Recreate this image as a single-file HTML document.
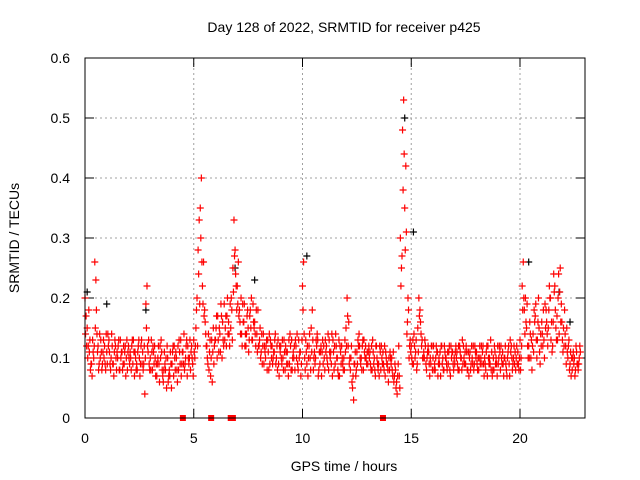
<!DOCTYPE html>
<html><head><meta charset="utf-8"><style>
body{margin:0;background:#fff}
svg{display:block;font-family:"Liberation Sans",sans-serif}
</style></head><body>
<svg id="chart" width="640" height="480">
<rect width="640" height="480" fill="#fff"/>
<text x="344" y="32" text-anchor="middle" font-size="14">Day 128 of 2022, SRMTID for receiver p425</text>
<text x="344" y="471" text-anchor="middle" font-size="14">GPS time / hours</text>
<text transform="translate(19,238) rotate(-90)" text-anchor="middle" font-size="14">SRMTID / TECUs</text>
<g id="grid"></g><g id="marks"></g>
<rect x="85" y="58" width="500" height="360" fill="none" stroke="#000"/>
</svg>
<script>
const startHour=0, stepHour=0.1;
const seriesA=[0.20,0.15,0.11,0.09,0.10,0.23,0.12,0.10,0.09,0.12,
0.11,0.13,0.10,0.09,0.12,0.10,0.08,0.11,0.09,0.10,
0.12,0.10,0.09,0.11,0.08,0.10,0.13,0.09,0.19,0.11,
0.10,0.08,0.12,0.07,0.09,0.13,0.06,0.08,0.10,0.07,
0.09,0.12,0.10,0.08,0.13,0.11,0.09,0.07,0.10,0.12,
0.13,0.15,0.28,0.35,0.22,0.18,0.12,0.08,0.10,0.15,
0.13,0.17,0.14,0.10,0.19,0.12,0.16,0.15,0.25,0.28,
0.22,0.18,0.14,0.16,0.12,0.15,0.18,0.13,0.16,0.14,
0.12,0.11,0.14,0.10,0.13,0.09,0.12,0.11,0.10,0.09,
0.12,0.10,0.08,0.11,0.09,0.13,0.10,0.12,0.08,0.11,
0.22,0.10,0.09,0.12,0.15,0.08,0.10,0.13,0.09,0.11,
0.10,0.12,0.08,0.11,0.13,0.09,0.10,0.07,0.12,0.10,
0.15,0.12,0.08,0.05,0.09,0.11,0.14,0.10,0.08,0.12,
0.09,0.11,0.08,0.10,0.12,0.09,0.08,0.11,0.07,0.09,
0.08,0.10,0.06,0.05,0.09,0.30,0.48,0.35,0.14,0.10,
0.12,0.09,0.11,0.15,0.18,0.13,0.10,0.08,0.11,0.09,
0.10,0.08,0.11,0.09,0.12,0.08,0.10,0.09,0.07,0.11,
0.09,0.11,0.08,0.10,0.12,0.09,0.08,0.11,0.10,0.09,
0.11,0.08,0.10,0.12,0.09,0.07,0.10,0.11,0.08,0.10,
0.09,0.08,0.11,0.10,0.07,0.09,0.12,0.10,0.08,0.11,
0.13,0.22,0.18,0.15,0.12,0.10,0.14,0.17,0.13,0.11,
0.16,0.13,0.18,0.15,0.20,0.12,0.22,0.17,0.14,0.19,
0.15,0.12,0.10,0.09,0.08,0.10,0.11,0.09];
const seriesB=[0.17,0.12,0.08,0.13,0.26,0.14,0.09,0.11,0.13,0.08,
0.14,0.09,0.12,0.11,0.08,0.13,0.10,0.09,0.12,0.08,
0.09,0.12,0.11,0.08,0.12,0.09,0.11,0.04,0.22,0.09,
0.13,0.11,0.07,0.10,0.12,0.08,0.11,0.05,0.07,0.09,
0.12,0.08,0.06,0.11,0.09,0.14,0.12,0.10,0.08,0.09,
0.10,0.20,0.33,0.40,0.26,0.14,0.09,0.13,0.06,0.12,
0.17,0.11,0.19,0.13,0.15,0.20,0.12,0.18,0.33,0.22,
0.26,0.14,0.19,0.12,0.17,0.13,0.20,0.16,0.12,0.18,
0.15,0.09,0.12,0.13,0.08,0.12,0.10,0.14,0.08,0.12,
0.09,0.13,0.11,0.07,0.12,0.10,0.08,0.14,0.10,0.09,
0.26,0.13,0.07,0.10,0.18,0.11,0.12,0.08,0.12,0.09,
0.13,0.09,0.11,0.14,0.08,0.12,0.07,0.11,0.09,0.13,
0.20,0.09,0.12,0.03,0.07,0.13,0.10,0.12,0.11,0.09,
0.12,0.08,0.11,0.07,0.09,0.12,0.10,0.08,0.10,0.06,
0.10,0.07,0.09,0.04,0.07,0.25,0.53,0.42,0.20,0.13,
0.09,0.12,0.08,0.20,0.14,0.10,0.12,0.11,0.07,0.12,
0.08,0.12,0.09,0.07,0.10,0.11,0.08,0.12,0.10,0.08,
0.12,0.08,0.11,0.13,0.09,0.11,0.07,0.09,0.12,0.11,
0.08,0.12,0.09,0.07,0.11,0.10,0.13,0.08,0.11,0.07,
0.12,0.10,0.07,0.09,0.11,0.13,0.08,0.09,0.12,0.08,
0.10,0.26,0.20,0.12,0.16,0.08,0.18,0.13,0.20,0.14,
0.12,0.19,0.14,0.22,0.16,0.24,0.15,0.20,0.25,0.13,
0.18,0.15,0.13,0.07,0.11,0.08,0.09,0.12];
const seriesC=[0.14,0.10,0.13,0.07,0.12,0.18,0.08,0.13,0.11,0.09,
0.09,0.11,0.14,0.07,0.10,0.12,0.13,0.08,0.11,0.13,
0.10,0.08,0.13,0.10,0.11,0.07,0.09,0.12,0.15,0.13,
0.08,0.12,0.10,0.09,0.06,0.11,0.08,0.10,0.06,0.11,
0.11,0.10,0.08,0.13,0.07,0.09,0.10,0.12,0.13,0.10,
0.11,0.18,0.24,0.30,0.19,0.16,0.10,0.11,0.13,0.09,
0.15,0.13,0.11,0.16,0.13,0.17,0.14,0.20,0.21,0.24,
0.19,0.16,0.12,0.19,0.14,0.11,0.15,0.19,0.14,0.11,
0.13,0.14,0.09,0.12,0.11,0.13,0.09,0.13,0.12,0.07,
0.10,0.08,0.12,0.09,0.14,0.08,0.12,0.10,0.13,0.07,
0.18,0.08,0.12,0.14,0.11,0.10,0.13,0.07,0.11,0.13,
0.08,0.10,0.13,0.09,0.11,0.14,0.08,0.12,0.10,0.08,
0.12,0.16,0.10,0.07,0.11,0.09,0.12,0.08,0.13,0.10,
0.11,0.09,0.13,0.08,0.10,0.07,0.12,0.09,0.11,0.08,
0.11,0.08,0.07,0.06,0.12,0.22,0.38,0.28,0.16,0.12,
0.10,0.14,0.13,0.11,0.16,0.10,0.13,0.10,0.09,0.12,
0.12,0.10,0.07,0.11,0.09,0.12,0.09,0.11,0.12,0.09,
0.11,0.09,0.12,0.08,0.10,0.12,0.11,0.08,0.09,0.12,
0.09,0.10,0.12,0.09,0.08,0.12,0.09,0.07,0.12,0.09,
0.10,0.12,0.09,0.12,0.10,0.07,0.10,0.12,0.10,0.09,
0.08,0.18,0.14,0.19,0.10,0.13,0.11,0.19,0.16,0.09,
0.14,0.10,0.16,0.18,0.13,0.16,0.18,0.13,0.21,0.16,
0.12,0.09,0.12,0.11,0.10,0.07,0.09,0.10];
const seriesD=[0.12,0.18,0.09,0.11,0.15,0.11,0.14,0.08,0.10,0.14,
0.12,0.08,0.09,0.13,0.11,0.08,0.11,0.12,0.07,0.11,
0.11,0.13,0.07,0.09,0.13,0.12,0.08,0.10,0.12,0.08,
0.11,0.09,0.09,0.12,0.10,0.07,0.09,0.12,0.08,0.05,
0.07,0.11,0.12,0.09,0.11,0.08,0.13,0.09,0.11,0.07,
0.12,0.12,0.19,0.26,0.17,0.12,0.14,0.07,0.11,0.13,
0.10,0.15,0.17,0.12,0.17,0.14,0.19,0.13,0.27,0.18,
0.17,0.20,0.16,0.14,0.18,0.17,0.13,0.15,0.18,0.12,
0.10,0.12,0.11,0.08,0.14,0.10,0.11,0.09,0.13,0.11,
0.13,0.11,0.09,0.13,0.08,0.11,0.13,0.09,0.11,0.13,
0.14,0.11,0.10,0.08,0.13,0.09,0.14,0.11,0.07,0.12,
0.11,0.14,0.10,0.07,0.12,0.10,0.13,0.09,0.08,0.11,
0.17,0.10,0.06,0.09,0.08,0.12,0.09,0.13,0.10,0.11,
0.10,0.12,0.09,0.12,0.08,0.11,0.09,0.12,0.09,0.10,
0.09,0.11,0.08,0.07,0.05,0.27,0.44,0.31,0.18,0.11,
0.13,0.10,0.09,0.17,0.12,0.11,0.09,0.12,0.10,0.08,
0.09,0.11,0.10,0.12,0.08,0.10,0.11,0.08,0.11,0.10,
0.10,0.12,0.10,0.09,0.11,0.08,0.10,0.12,0.08,0.10,
0.10,0.09,0.11,0.10,0.12,0.09,0.08,0.10,0.09,0.12,
0.11,0.09,0.10,0.08,0.12,0.11,0.09,0.11,0.09,0.10,
0.12,0.20,0.16,0.10,0.14,0.12,0.16,0.10,0.15,0.12,
0.18,0.15,0.12,0.20,0.11,0.21,0.13,0.24,0.16,0.11,
0.14,0.11,0.08,0.10,0.09,0.12,0.08,0.11];
const blackTimes=[0.1,1.0,2.8,6.9,7.8,10.2,14.7,15.1,20.4,21.8,22.3];
const blackValues=[0.21,0.19,0.18,0.25,0.23,0.27,0.50,0.31,0.26,0.21,0.16];
const zeroTimes=[4.5,5.8,6.7,6.8,13.7];
const xTicks=[0,5,10,15,20];
const yTicks=[0,0.1,0.2,0.3,0.4,0.5,0.6];
const yTickLabels=["0","0.1","0.2","0.3","0.4","0.5","0.6"];

const X=h=>85+h*21.75, Y=v=>418-v*600;
const NS="http://www.w3.org/2000/svg";
const grid=document.getElementById('grid'), marks=document.getElementById('marks');
function mk(tag,attrs,parent){const e=document.createElementNS(NS,tag);for(const k in attrs)e.setAttribute(k,attrs[k]);parent.appendChild(e);return e;}
yTicks.forEach((v,i)=>{
  if(i>0&&i<yTicks.length-1){const g=mk('line',{x1:85,x2:585,y1:Y(v),y2:Y(v),stroke:'#a0a0a0','stroke-dasharray':'2,3'},grid);
  
  }
  mk('line',{x1:85,x2:94,y1:Y(v),y2:Y(v),stroke:'#000'},grid);
  mk('line',{x1:576,x2:585,y1:Y(v),y2:Y(v),stroke:'#000'},grid);
  const t=mk('text',{x:70,y:Y(v)+5,'text-anchor':'end','font-size':14},grid);t.textContent=yTickLabels[i];
  
  
});
xTicks.forEach(h=>{
  if(h>0){const g=mk('line',{x1:X(h),x2:X(h),y1:58,y2:418,stroke:'#a0a0a0','stroke-dasharray':'2,3'},grid);
  
  }
  mk('line',{x1:X(h),x2:X(h),y1:418,y2:409,stroke:'#000'},grid);
  mk('line',{x1:X(h),x2:X(h),y1:58,y2:67,stroke:'#000'},grid);
  const t=mk('text',{x:X(h),y:443,'text-anchor':'middle','font-size':14},grid);t.textContent=h;
  
  
});
function plus(x,y,c,name){const p=mk('path',{d:`M${x-3.5} ${y}h7M${x} ${y-3.5}v7`,stroke:c,'stroke-width':1.2},marks);
  
  }
blackTimes.forEach((h,i)=>plus(X(h),Y(blackValues[i]),'#000','black-point'));
seriesA.forEach((v,i)=>plus(X(startHour+i*stepHour),Y(v),'#f00','red-point'));
seriesB.forEach((v,i)=>plus(X(startHour+i*stepHour+0.05),Y(v),'#f00','red-point'));
seriesC.forEach((v,i)=>plus(X(startHour+i*stepHour+0.025),Y(v),'#f00','red-point'));
seriesD.forEach((v,i)=>plus(X(startHour+i*stepHour+0.075),Y(v),'#f00','red-point'));
zeroTimes.forEach(h=>{const r=mk('rect',{x:X(h)-3,y:415,width:6,height:6,fill:'#f00'},marks);
  
  });
</script>
</body></html>
